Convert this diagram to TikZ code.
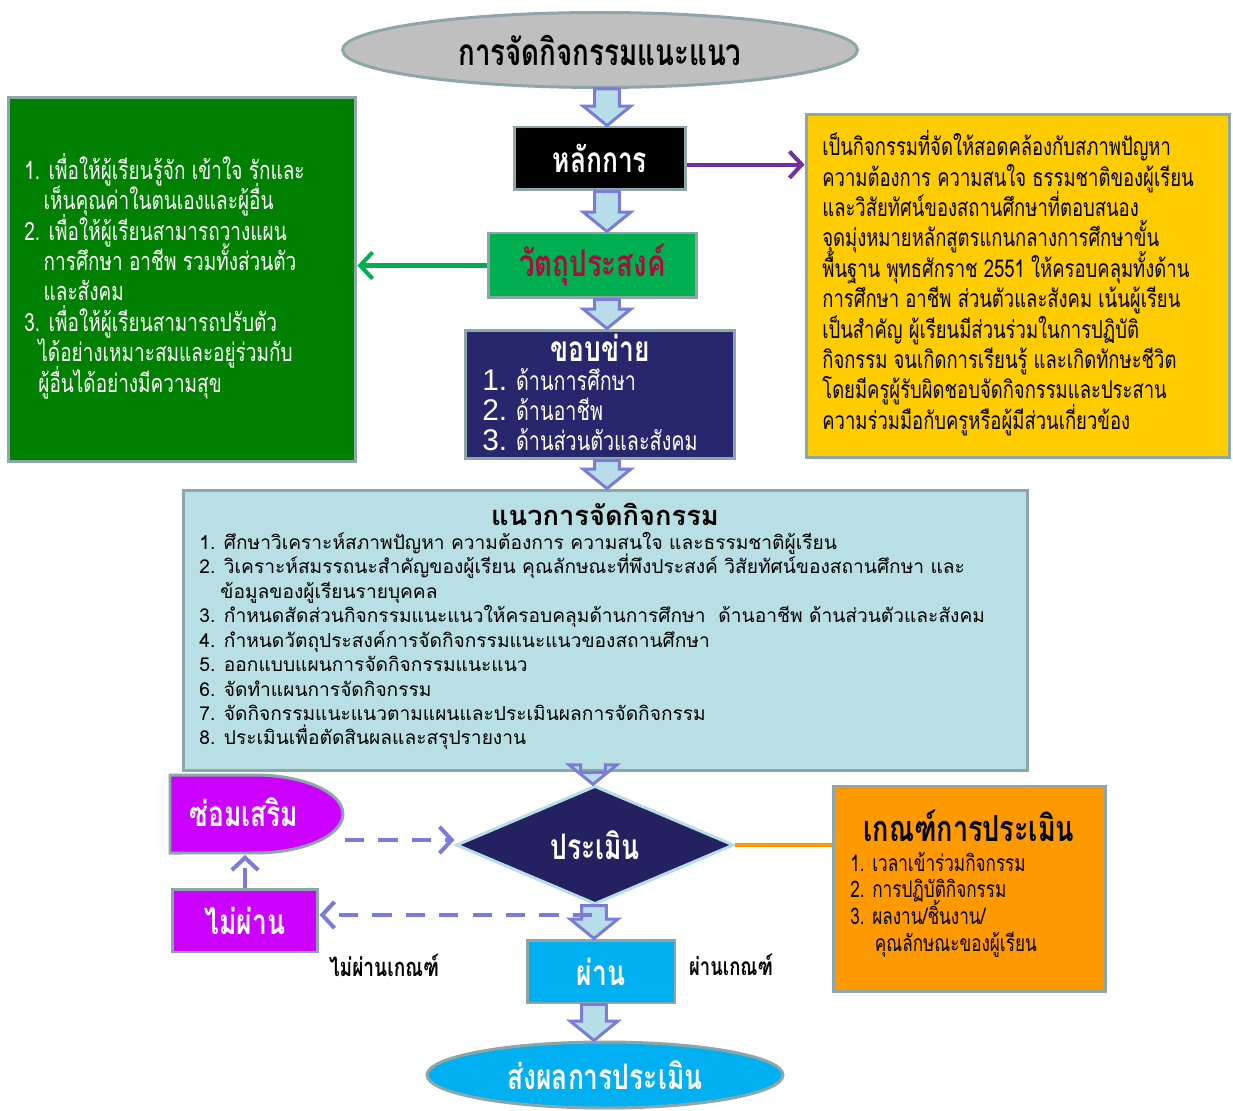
\documentclass[tikz,border=0pt]{standalone}
\usepackage{fontspec}
\usetikzlibrary{shapes.geometric,arrows.meta,calc}
\newfontfamily\thai[Script=Thai]{Loma}
\newfontfamily\thain[Script=Thai,FakeStretch=0.75]{Loma}
\newfontfamily\arial{Liberation Sans}
\newcommand{\tightlines}{\setlength{\lineskiplimit}{-20pt}\setlength{\lineskip}{0pt}}
\definecolor{edge}{HTML}{8DA6A9}
\definecolor{arrfill}{HTML}{B7DEE8}
\definecolor{arrline}{HTML}{7B7BD8}
\definecolor{navy}{HTML}{28266C}
\definecolor{navyd}{HTML}{23215F}
\definecolor{mag}{HTML}{CC00FF}
\definecolor{sky}{HTML}{00B0F0}
\definecolor{orng}{HTML}{FF9900}
\definecolor{yel}{HTML}{FFCC00}
\definecolor{dgreen}{HTML}{008000}
\definecolor{mgreen}{HTML}{00B050}
\definecolor{maroon}{HTML}{A50F3C}
\definecolor{purp}{HTML}{7030A0}
\definecolor{pale}{HTML}{B8DFE3}
\newcommand{\barrow}[3]{%
  \filldraw[blockarr] let \p1=(#2), \p2=(#3), \p3=(#1,0) in
    (\x3-7pt,\y1) -- (\x3+7pt,\y1) -- (\x3+7pt,\y2+11pt) -- (\x3+13.5pt,\y2+11pt)
    -- (\x3,\y2) -- (\x3-13.5pt,\y2+11pt) -- (\x3-7pt,\y2+11pt) -- cycle;}
\begin{document}
\begin{tikzpicture}[x=0.02cm,y=-0.02cm,
    box/.style={draw=edge,line width=1.7pt,inner sep=0pt},
    blockarr/.style={fill=arrfill,draw=arrline,line width=1.7pt,line join=miter},
    dasharr/.style={draw=arrline,line width=2.3pt,dash pattern=on 11pt off 8pt,-{Straight Barb[length=7pt,width=15pt,line width=2.3pt]}},
    ttl/.style={font=\thain\bfseries\fontsize{20}{24}\selectfont},
    body/.style={font=\thain\fontsize{14}{17.3}\selectfont\tightlines,align=left,inner sep=0pt}]
\useasboundingbox (0,0) rectangle (1233,1111);

\node[box,ellipse,fill=black!25,minimum width=10.3cm,minimum height=1.5cm,ttl,font=\thain\bfseries\fontsize{21}{24}\selectfont] (top) at (600,50) {การจัดกิจกรรมแนะแนว};
\node[box,fill=black,minimum width=3.42cm,minimum height=1.26cm,ttl,text=white] (hk) at (600,158.5) {หลักการ};
\node[box,fill=mgreen,minimum width=4.18cm,minimum height=1.3cm,ttl,text=maroon,font=\thain\bfseries\fontsize{21}{26}\selectfont] (goal) at (592.5,265.5) {วัตถุประสงค์};
\node[box,fill=navy,minimum width=5.4cm,minimum height=2.58cm] (scope) at (600,394.5) {};
\node[box,fill=yel,minimum width=8.48cm,minimum height=6.88cm] (princ) at (1018,286) {};
\node[box,fill=dgreen,minimum width=6.96cm,minimum height=7.3cm] (aim) at (182,279.5) {};
\node[box,fill=pale,minimum width=16.9cm,minimum height=5.62cm] (guide) at (605.5,630.5) {};
\node[diamond,draw=arrfill,line width=1.7pt,fill=navyd,minimum width=5.56cm,minimum height=1.84cm,inner sep=0pt,ttl,text=white] (eval) at (595,845) {ประเมิน};
\node[box,fill=orng,minimum width=5.46cm,minimum height=4.12cm] (crit) at (969.5,889) {};
\node[box,fill=mag,minimum width=2.92cm,minimum height=1.26cm,ttl,text=white] (fail) at (245,920.5) {ไม่ผ่าน};
\node[box,fill=sky,minimum width=2.96cm,minimum height=1.26cm,ttl,text=white] (pass) at (601,971.5) {ผ่าน};
\node[box,ellipse,fill=sky,minimum width=7.12cm,minimum height=1.32cm,ttl,text=white] (send) at (605,1075) {ส่งผลการประเมิน};
\draw[box,fill=mag] (170,775) -- (255,775) arc[start angle=90,end angle=-90,x radius=1.76cm,y radius=0.78cm] -- (170,853) -- cycle;
\node[ttl,text=white] (fix) at (244,812) {ซ่อมเสริม};
\coordinate (fixe) at (345,840);
\coordinate (fixs) at (245,855);
\coordinate (split) at (592,915);

\node[body,anchor=north west] (ptxt) at (822,130) {เป็นกิจกรรมที่จัดให้สอดคล้องกับสภาพปัญหา\\
ความต้องการ ความสนใจ ธรรมชาติของผู้เรียน\\
และวิสัยทัศน์ของสถานศึกษาที่ตอบสนอง\\
จุดมุ่งหมายหลักสูตรแกนกลางการศึกษาขั้น\\
พื้นฐาน พุทธศักราช 2551 ให้ครอบคลุมทั้งด้าน\\
การศึกษา อาชีพ ส่วนตัวและสังคม เน้นผู้เรียน\\
เป็นสำคัญ ผู้เรียนมีส่วนร่วมในการปฏิบัติ\\
กิจกรรม จนเกิดการเรียนรู้ และเกิดทักษะชีวิต\\
โดยมีครูผู้รับผิดชอบจัดกิจกรรมและประสาน\\
ความร่วมมือกับครูหรือผู้มีส่วนเกี่ยวข้อง};
\node[body,text=white,anchor=north west,font=\thain\fontsize{14.4}{17.3}\selectfont\tightlines] (atxt) at (24,153) {1. เพื่อให้ผู้เรียนรู้จัก เข้าใจ รักและ\\
\hspace*{11pt}เห็นคุณค่าในตนเองและผู้อื่น\\
2. เพื่อให้ผู้เรียนสามารถวางแผน\\
\hspace*{11pt}การศึกษา อาชีพ รวมทั้งส่วนตัว\\
\hspace*{11pt}และสังคม\\
3. เพื่อให้ผู้เรียนสามารถปรับตัว\\
\hspace*{8pt}ได้อย่างเหมาะสมและอยู่ร่วมกับ\\
\hspace*{8pt}ผู้อื่นได้อย่างมีความสุข};
\node[ttl,text=white] (stit) at (600,348) {ขอบข่าย};
\node[text=white,anchor=north west,align=left,inner sep=0pt,font=\thain\fontsize{15}{17}\selectfont\tightlines] (stxt) at (482,368) {{\arial\fontsize{17}{17}\selectfont 1.} ด้านการศึกษา\\
{\arial\fontsize{17}{17}\selectfont 2.} ด้านอาชีพ\\
{\arial\fontsize{17}{17}\selectfont 3.} ด้านส่วนตัวและสังคม};
\node[font=\thai\bfseries\fontsize{15.5}{18}\selectfont] (gtit) at (605,514) {แนวการจัดกิจกรรม};
\node[anchor=north west,align=left,inner sep=0pt,font=\thai\fontsize{10.9}{13.9}\selectfont\tightlines] (gtxt) at (199,532) {1. ศึกษาวิเคราะห์สภาพปัญหา ความต้องการ ความสนใจ และธรรมชาติผู้เรียน\\
2. วิเคราะห์สมรรถนะสำคัญของผู้เรียน คุณลักษณะที่พึงประสงค์ วิสัยทัศน์ของสถานศึกษา และ\\
\hspace*{12pt}ข้อมูลของผู้เรียนรายบุคคล\\
3. กำหนดสัดส่วนกิจกรรมแนะแนวให้ครอบคลุมด้านการศึกษา\ \ ด้านอาชีพ ด้านส่วนตัวและสังคม\\
4. กำหนดวัตถุประสงค์การจัดกิจกรรมแนะแนวของสถานศึกษา\\
5. ออกแบบแผนการจัดกิจกรรมแนะแนว\\
6. จัดทำแผนการจัดกิจกรรม\\
7. จัดกิจกรรมแนะแนวตามแผนและประเมินผลการจัดกิจกรรม\\
8. ประเมินเพื่อตัดสินผลและสรุปรายงาน};
\node[ttl,font=\thain\bfseries\fontsize{20.5}{22}\selectfont] (ctit) at (969,826) {เกณฑ์การประเมิน};
\node[body,anchor=north west,font=\thain\fontsize{13}{15.1}\selectfont\tightlines] (ctxt) at (850,852) {1. เวลาเข้าร่วมกิจกรรม\\
2. การปฏิบัติกิจกรรม\\
3. ผลงาน/ชิ้นงาน/\\
\hspace*{14pt}คุณลักษณะของผู้เรียน};
\node[font=\thain\bfseries\fontsize{14.5}{16}\selectfont] (nolab) at (384,965) {ไม่ผ่านเกณฑ์};
\node[font=\thain\bfseries\fontsize{14}{16}\selectfont] (oklab) at (731,965) {ผ่านเกณฑ์};

\draw[purp,line width=2.3pt,-{Straight Barb[length=7pt,width=15pt,line width=2.3pt]}] ([yshift=-3.5pt]hk.east) -- ([yshift=-3.5pt]hk.east -| princ.west);
\draw[mgreen,line width=2.3pt,-{Straight Barb[length=7pt,width=15pt,line width=2.3pt]}] (goal.west) -- (goal.west -| aim.east);
\draw[orng,line width=2.6pt] (eval.east) -- (eval.east -| crit.west);
\draw[dasharr] (fixe) -- (eval.west |- fixe);
\draw[dasharr] (fail.north) -- (fixs);

\barrow{607}{top.south}{hk.north}
\barrow{607}{hk.south}{goal.north}
\barrow{607}{goal.south}{scope.north}
\barrow{607}{scope.south}{guide.north}
\barrow{593}{guide.south}{eval.north}
\barrow{594}{eval.south}{pass.north}
\barrow{594}{pass.south}{send.north}
\draw[dasharr] (split) -- (fail.east |- split);
\end{tikzpicture}
\end{document}
